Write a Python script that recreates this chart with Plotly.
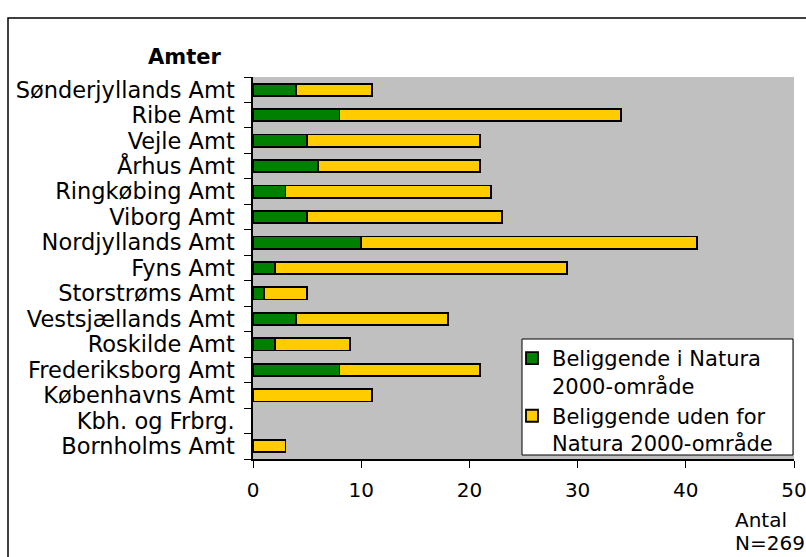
import plotly.graph_objects as go

# counties, top to bottom as shown
amter = ["Sønderjyllands Amt", "Ribe Amt", "Vejle Amt", "Århus Amt", "Ringkøbing Amt",
         "Viborg Amt", "Nordjyllands Amt", "Fyns Amt", "Storstrøms Amt",
         "Vestsjællands Amt", "Roskilde Amt", "Frederiksborg Amt", "Københavns Amt",
         "Kbh. og Frbrg.", "Bornholms Amt"]
i_natura = [4, 8, 5, 6, 3, 5, 10, 2, 1, 4, 2, 8, 0, 0, 0]
uden_for = [7, 26, 16, 15, 19, 18, 31, 27, 4, 14, 7, 13, 11, 0, 3]
x_ticks = [0, 10, 20, 30, 40, 50]

FONT = "DejaVu Sans"
W, H = 806, 557
L, R, T, B = 253, 12, 77, 98
pw, ph = W - L - R, H - T - B

def px(x):
    return (x - L) / pw

def py(y):
    return (H - B - y) / ph

def outline(vals):
    # no outline on empty segments (Excel draws nothing there)
    return [1.8 if v else 0 for v in vals]

fig = go.Figure()
fig.add_trace(go.Bar(
    name="Beliggende i Natura<br>2000-område",
    y=amter, x=i_natura, orientation="h",
    marker=dict(color="#008000", line=dict(color="black", width=outline(i_natura)))))
fig.add_trace(go.Bar(
    name="Beliggende uden for<br>Natura 2000-område",
    y=amter, x=uden_for, orientation="h",
    marker=dict(color="#FFCC00", line=dict(color="black", width=outline(uden_for)))))

fig.update_layout(
    width=W, height=H,
    margin=dict(l=L, r=R, t=T, b=B, autoexpand=False),
    barmode="stack", bargap=0.52,
    paper_bgcolor="white", plot_bgcolor="#C0C0C0",
    font=dict(family=FONT, size=21, color="black"),
    showlegend=True,
    legend=dict(x=px(512), y=py(338), xanchor="left", yanchor="top",
                bgcolor="rgba(0,0,0,0)", borderwidth=0, valign="top",
                font=dict(size=21), traceorder="normal",
                tracegroupgap=0, itemwidth=30),
)
fig.update_xaxes(range=[0, 50], tickvals=x_ticks, showgrid=False, zeroline=False,
                 showline=True, linecolor="black", linewidth=1.5, automargin=False,
                 ticks="outside", ticklen=7, tickcolor="black", ticklabeloverflow="allow",
                 tickfont=dict(size=20), ticklabelstandoff=5)
fig.update_yaxes(categoryorder="array", categoryarray=amter, autorange="reversed",
                 tickmode="array", tickvals=amter, ticktext=amter,
                 showgrid=False, showline=True, linecolor="black", linewidth=1.5,
                 automargin=False, ticks="outside", ticklen=7, tickcolor="black",
                 tickson="boundaries", tickfont=dict(size=22.5), ticklabelstandoff=12)

# legend box
fig.add_shape(type="rect", xref="paper", yref="paper",
              x0=px(522), y0=py(455), x1=px(793), y1=py(339),
              line=dict(color="black", width=1), fillcolor="white", layer="above")

fig.add_annotation(text="<b>Amter</b>", x=px(184), y=py(57), xref="paper", yref="paper",
                   xanchor="center", yanchor="middle", showarrow=False, font=dict(size=21))
fig.add_annotation(text="Antal", x=px(789), y=py(520), xref="paper", yref="paper",
                   xanchor="right", yanchor="middle", showarrow=False, font=dict(size=20))
fig.add_annotation(text="N=269", x=px(807), y=py(543), xref="paper", yref="paper",
                   xanchor="right", yanchor="middle", showarrow=False, font=dict(size=20))

# outer chart frame
fig.add_shape(type="rect", xref="paper", yref="paper",
              x0=px(8), y0=py(570), x1=px(830), y1=py(18),
              line=dict(color="black", width=1.5), fillcolor="rgba(0,0,0,0)")

fig.write_html("out.html", config={"displayModeBar": False},
               post_script="document.body.style.margin='0';")
